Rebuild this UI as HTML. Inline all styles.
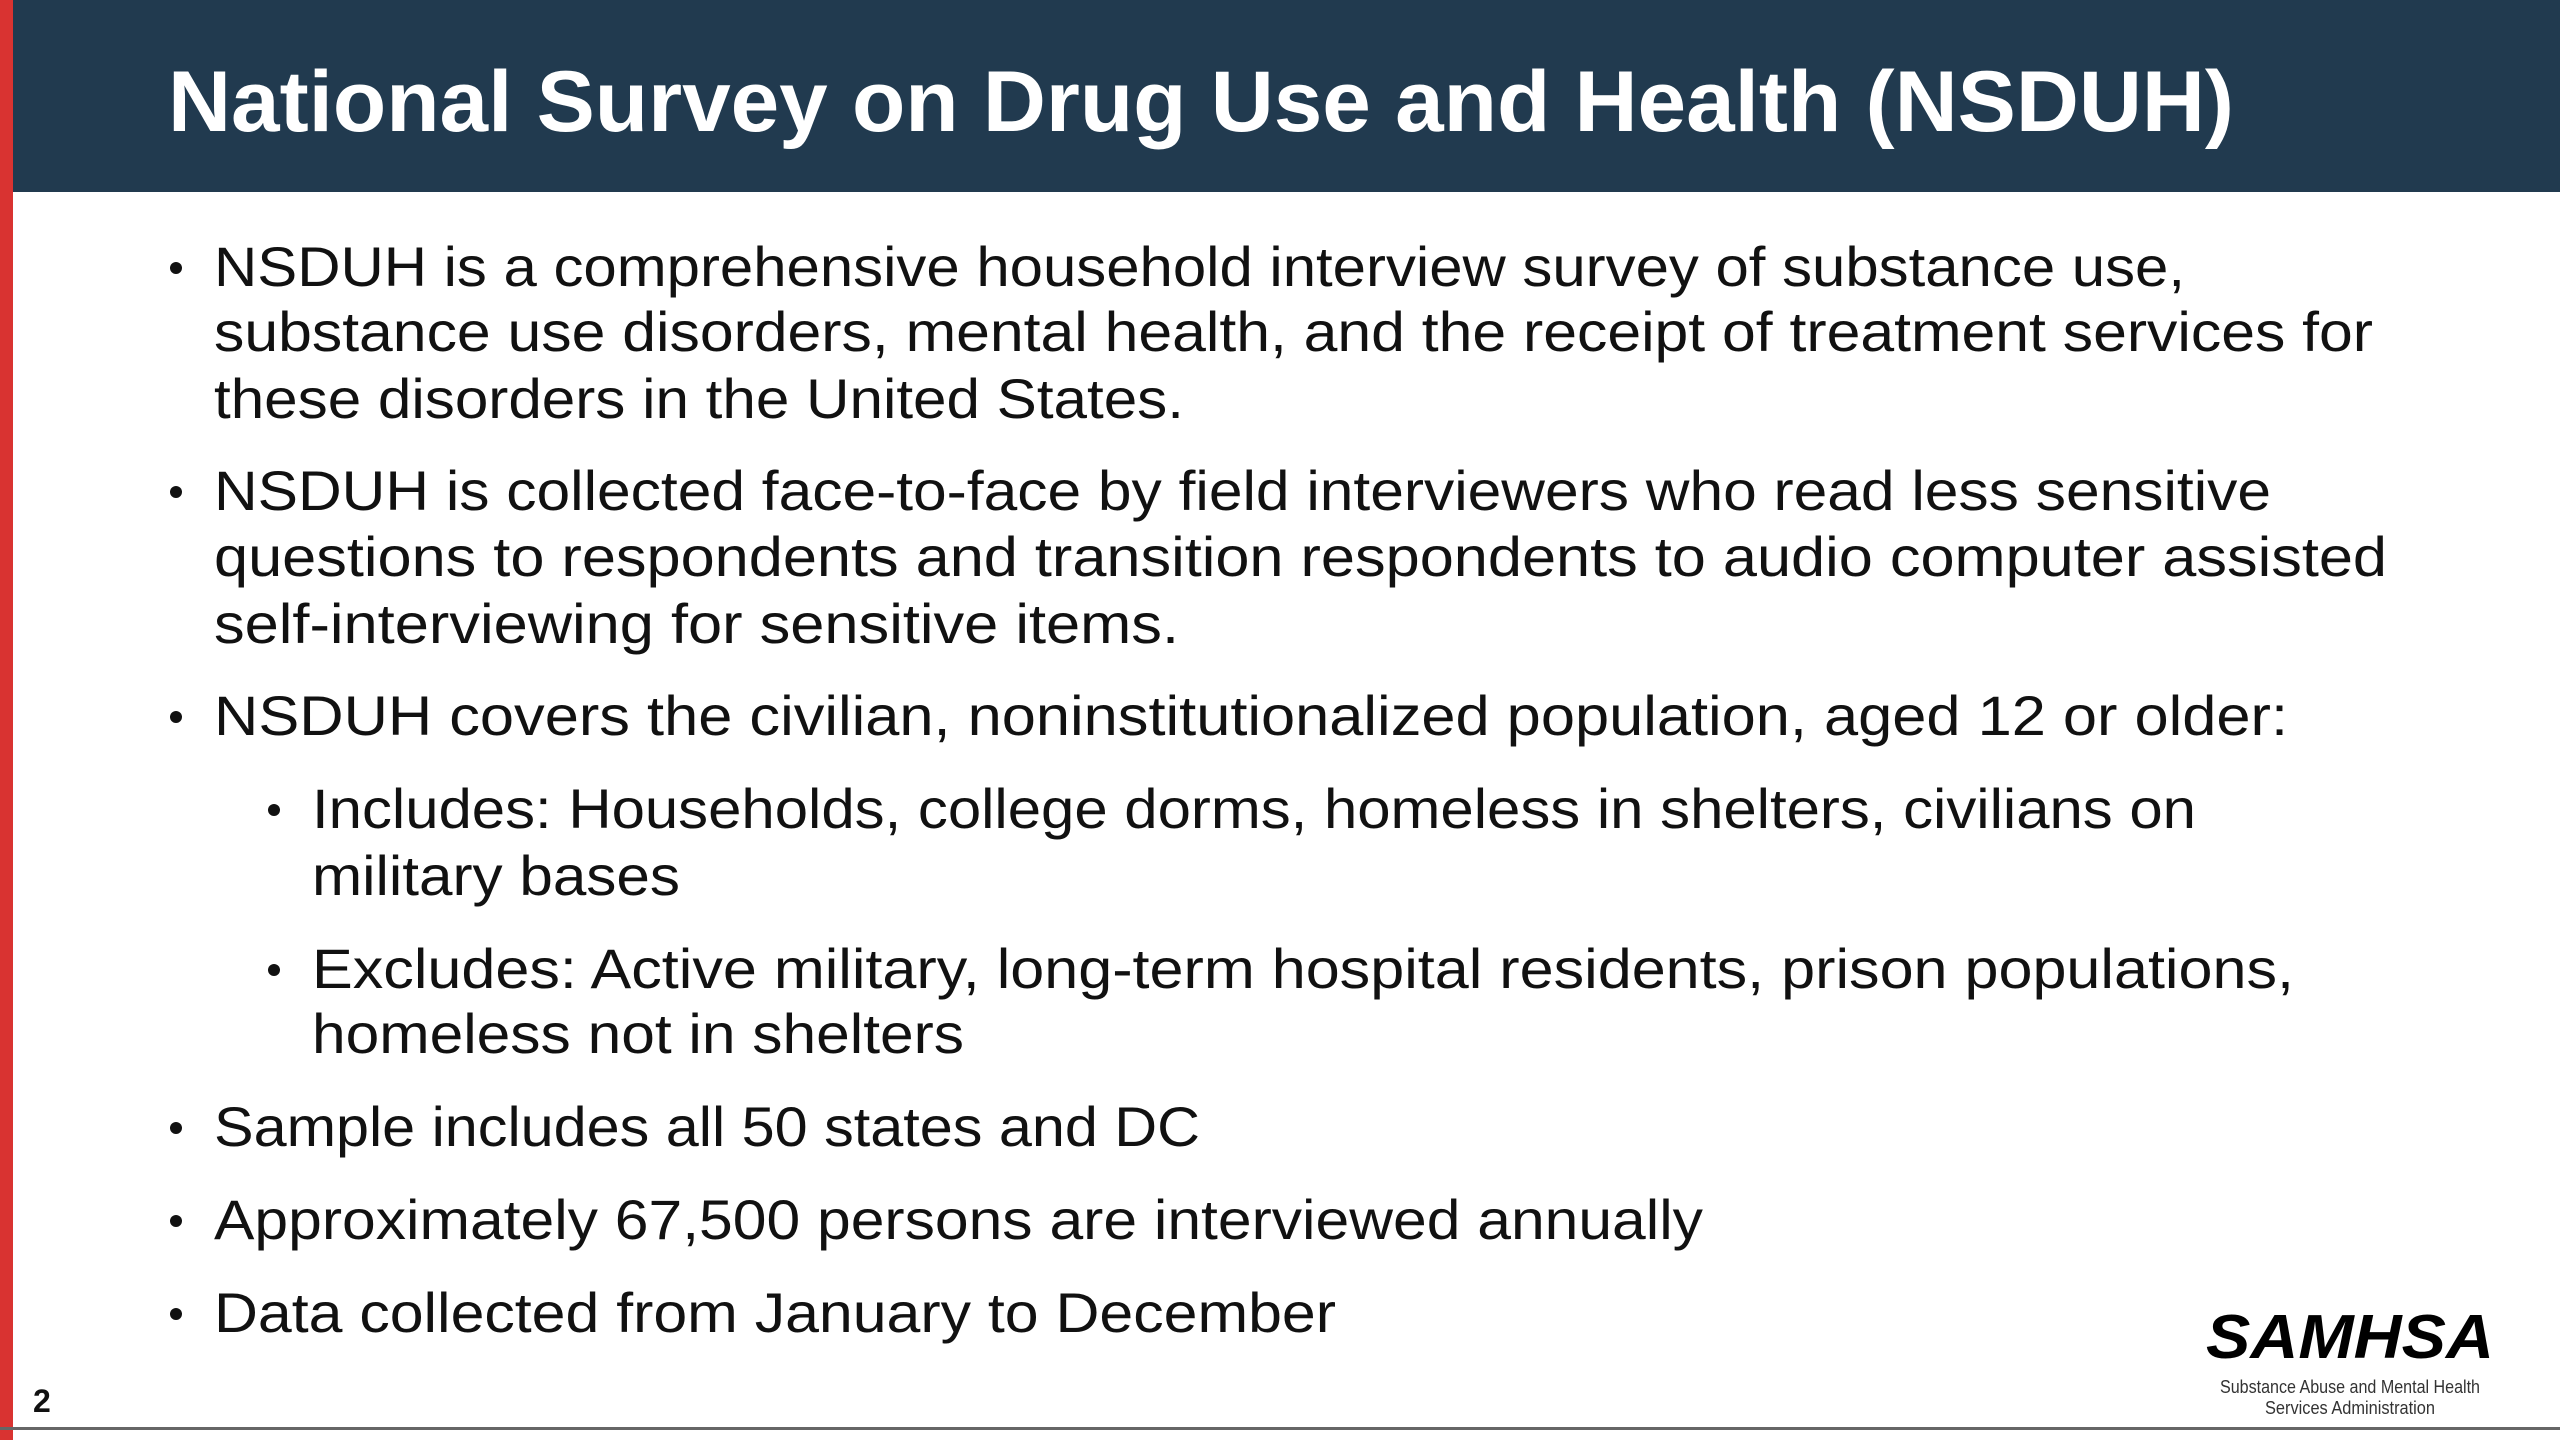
<!DOCTYPE html>
<html><head><meta charset="utf-8"><style>
html,body{margin:0;padding:0;background:#fff;width:2560px;height:1440px;overflow:hidden}
svg{display:block}
text{font-family:"Liberation Sans",sans-serif}
</style></head><body>
<svg width="2560" height="1440" viewBox="0 0 2560 1440">
<rect x="0" y="0" width="2560" height="1440" fill="#fff"/>
<rect x="0" y="0" width="2560" height="192" fill="#213a4f"/>
<rect x="0" y="0" width="13" height="1440" fill="#d93331"/>
<text x="168" y="131" font-size="86" font-weight="bold" fill="#fff" textLength="2066" lengthAdjust="spacingAndGlyphs">National Survey on Drug Use and Health (NSDUH)</text>
<g fill="#111" font-size="56">
<g fill="#111">
<circle cx="176" cy="268" r="6"/><circle cx="176" cy="492" r="6"/><circle cx="176" cy="717" r="6"/>
<circle cx="274" cy="810" r="6"/><circle cx="274" cy="970" r="6"/>
<circle cx="176" cy="1128" r="6"/><circle cx="176" cy="1221" r="6"/><circle cx="176" cy="1314" r="6"/>
</g>
<text x="214" y="286" textLength="1971" lengthAdjust="spacingAndGlyphs">NSDUH is a comprehensive household interview survey of substance use,</text>
<text x="214" y="351" textLength="2159" lengthAdjust="spacingAndGlyphs">substance use disorders, mental health, and the receipt of treatment services for</text>
<text x="214" y="418" textLength="970" lengthAdjust="spacingAndGlyphs">these disorders in the United States.</text>
<text x="214" y="510" textLength="2057" lengthAdjust="spacingAndGlyphs">NSDUH is collected face-to-face by field interviewers who read less sensitive</text>
<text x="214" y="576" textLength="2173" lengthAdjust="spacingAndGlyphs">questions to respondents and transition respondents to audio computer assisted</text>
<text x="214" y="643" textLength="965" lengthAdjust="spacingAndGlyphs">self-interviewing for sensitive items.</text>
<text x="214" y="735" textLength="2074" lengthAdjust="spacingAndGlyphs">NSDUH covers the civilian, noninstitutionalized population, aged 12 or older:</text>
<text x="312" y="828" textLength="1884" lengthAdjust="spacingAndGlyphs">Includes: Households, college dorms, homeless in shelters, civilians on</text>
<text x="312" y="895" textLength="368" lengthAdjust="spacingAndGlyphs">military bases</text>
<text x="312" y="988" textLength="1982" lengthAdjust="spacingAndGlyphs">Excludes: Active military, long-term hospital residents, prison populations,</text>
<text x="312" y="1053" textLength="652" lengthAdjust="spacingAndGlyphs">homeless not in shelters</text>
<text x="214" y="1146" textLength="986" lengthAdjust="spacingAndGlyphs">Sample includes all 50 states and DC</text>
<text x="214" y="1239" textLength="1489" lengthAdjust="spacingAndGlyphs">Approximately 67,500 persons are interviewed annually</text>
<text x="214" y="1332" textLength="1122" lengthAdjust="spacingAndGlyphs">Data collected from January to December</text>
</g>
<text x="33" y="1412" font-size="32" font-weight="bold" fill="#111">2</text>
<g>
<text x="2206" y="1358" font-size="62" font-weight="bold" font-style="italic" fill="#000" textLength="288" lengthAdjust="spacingAndGlyphs">SAMHSA</text>
<text x="2350" y="1393" font-size="18" fill="#333" text-anchor="middle" textLength="260" lengthAdjust="spacingAndGlyphs">Substance Abuse and Mental Health</text>
<text x="2350" y="1414" font-size="18" fill="#333" text-anchor="middle" textLength="170" lengthAdjust="spacingAndGlyphs">Services Administration</text>
</g>
<rect x="0" y="1427" width="2560" height="3" fill="#666"/>
</svg>
</body></html>
